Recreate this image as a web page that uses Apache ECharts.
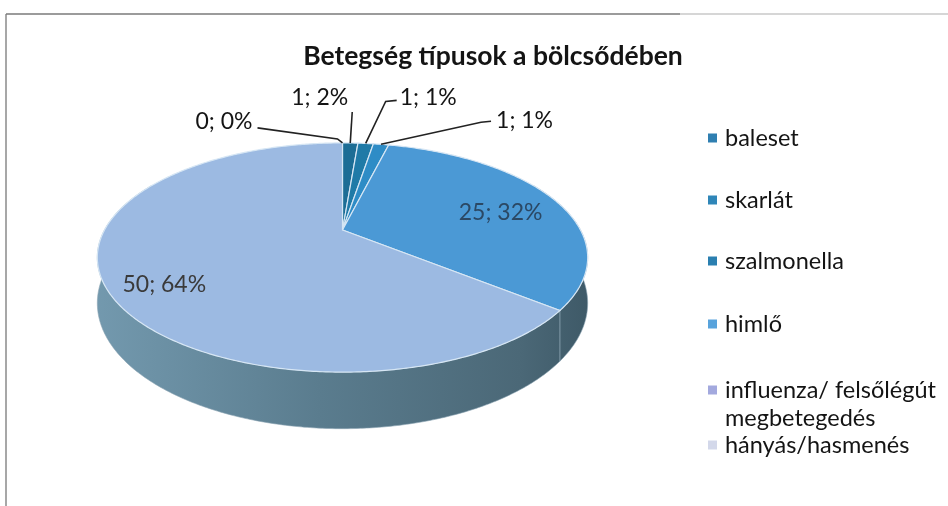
<!DOCTYPE html>
<html>
<head>
<meta charset="utf-8">
<title>Betegség típusok a bölcsődében</title>
<script src="https://cdn.jsdelivr.net/npm/echarts@6/dist/echarts.min.js"></script>
<style>
  html, body { margin: 0; padding: 0; background: #fff; }
  #chart { width: 948px; height: 506px; }
</style>
</head>
<body>
<div id="chart"></div>
<script>
// adatok
const categories = ['baleset', 'skarlát', 'szalmonella', 'himlő', 'influenza/ felsőlégút\nmegbetegedés', 'hányás/hasmenés'];
const values = [0, 1, 1, 1, 25, 50];
const percentLabels = [0, 2, 1, 1, 32, 64];

// színek
const legendColors = ['#2f7fb1', '#2f86b8', '#2a7fb0', '#58a3dc', '#a3a9de', '#d3d8ea'];
const topColors = ['#1b668c', '#1c6d95', '#1f7aa7', '#2e8cc6', '#4b99d5', '#9cbae2'];

// 3D torta geometria (perspektíva)
const pie = { cx: 342.5, cy: 230, rx: 238, ry: 108, depth: 43, persp: 0.24 };
// címkék: vezetővonal pontjai és szöveg eltolása a perem pontjától
const leaders = [
  { pts: [[-5, -4], [-85, -15]], text: [-90, -21], align: 'right' },
  { pts: [[2, -31]], text: [-2, -45], align: 'right' },
  { pts: [[20, -42], [31, -43]], text: [34, -46], align: 'left' },
  { pts: [[100, -22], [110, -23]], text: [115, -24], align: 'left' },
];
const insideOffsets = [null, null, null, null, [4, 6], [-11, 19]];
const legendTops = [124, 186, 247, 310, 376, 431];
const FONT = 'Lato';
const TEXT_COLOR = '#141414';

const total = values.reduce((a, b) => a + b, 0);
const startAngles = [];
let acc = 0;
values.forEach((v) => {
  startAngles.push((acc / total) * Math.PI * 2);
  acc += v;
});

function project(theta, frac, h) {
  const u = Math.sin(theta) * frac;
  const v = -Math.cos(theta) * frac;
  const s = 1 / (1 - pie.persp * v);
  return [pie.cx + pie.rx * u * s, pie.cy + (pie.ry * v + h) * s];
}

function arc(a0, a1, frac, h) {
  const n = Math.max(2, Math.ceil((a1 - a0) / 0.01));
  const pts = [];
  for (let k = 0; k <= n; k++) {
    pts.push(project(a0 + ((a1 - a0) * k) / n, frac, h));
  }
  return pts;
}

const sideFill = {
  type: 'linear', x: 95, y: 0, x2: 595, y2: 0, global: true,
  colorStops: [
    { offset: 0, color: '#7399ae' },
    { offset: 0.45, color: '#5a7c8e' },
    { offset: 0.85, color: '#4b6877' },
    { offset: 1, color: '#3d5866' },
  ],
};

function renderSlice(i) {
  return function () {
    const a0 = startAngles[i];
    const a1 = a0 + (values[i] / total) * Math.PI * 2;
    const children = [];
    if (a1 > a0) {
      // oldalfal
      const lo = Math.max(a0, Math.PI * 0.35);
      const hi = Math.min(a1, Math.PI * 1.65);
      if (hi > lo) {
        children.push({
          type: 'polygon',
          z2: 1,
          shape: { points: arc(lo, hi, 1, 0).concat(arc(lo, hi, 1, pie.depth).reverse()) },
          style: { fill: sideFill, stroke: '#8aa3b2', lineWidth: 0.6 },
        });
      }
      // felső lap
      children.push({
        type: 'polygon',
        z2: 5,
        shape: { points: [[pie.cx, pie.cy]].concat(arc(a0, a1, 1, 0)) },
        style: { fill: topColors[i], stroke: '#d6e6f4', lineWidth: 1.2 },
      });
    }
    const mid = (a0 + a1) / 2;
    const text = values[i] + '; ' + percentLabels[i] + '%';
    if (leaders[i]) {
      const p = project(mid, 1, 0);
      const L = leaders[i];
      children.push({
        type: 'polyline',
        z2: 8,
        shape: { points: [p].concat(L.pts.map((d) => [p[0] + d[0], p[1] + d[1]])) },
        style: { stroke: '#222', lineWidth: 1.6, fill: null },
      });
      children.push({
        type: 'text',
        z2: 10,
        x: p[0] + L.text[0],
        y: p[1] + L.text[1],
        style: { text, fill: TEXT_COLOR, fontSize: 23, fontFamily: FONT, align: L.align, verticalAlign: 'middle' },
      });
    } else {
      const p = project(mid, 0.72, 0);
      const o = insideOffsets[i];
      children.push({
        type: 'text',
        z2: 10,
        x: p[0] + o[0],
        y: p[1] + o[1],
        style: { text, fill: i === 4 ? '#2b4864' : '#3a3a3a', fontSize: 23, fontFamily: FONT, align: 'center', verticalAlign: 'middle' },
      });
    }
    return { type: 'group', children };
  };
}

// a kétsoros tételnél a jel az első sorhoz igazodjon
const topSquareIcon = 'path://M0,0H9V9H0Z M0,37H0.01V37.01H0Z';

const chart = echarts.init(document.getElementById('chart'));

const option = {
  animation: false,
  backgroundColor: '#fff',
  title: {
    text: 'Betegség típusok a bölcsődében',
    left: 488,
    top: 38,
    textAlign: 'center',
    textStyle: { fontSize: 26.5, fontWeight: 'bold', fontFamily: FONT, color: '#141414' },
  },
  legend: categories.map((name, i) => {
    const twoLine = name.indexOf('\n') >= 0;
    return {
      data: [name],
      orient: 'vertical',
      left: 708,
      top: legendTops[i],
      padding: 0,
      itemWidth: 9,
      itemHeight: twoLine ? 37 : 9,
      icon: twoLine ? topSquareIcon : 'rect',
      selectedMode: false,
      textStyle: { fontSize: 23.5, lineHeight: 28, color: TEXT_COLOR, fontFamily: FONT, padding: [0, 0, 0, 3] },
    };
  }),
  graphic: [
    { type: 'line', shape: { x1: 6, y1: 14, x2: 6, y2: 506 }, style: { stroke: '#8a8a8a', lineWidth: 1.5 } },
    { type: 'line', shape: { x1: 6, y1: 14, x2: 680, y2: 14 }, style: { stroke: '#7a7a7a', lineWidth: 1.5 } },
    { type: 'line', shape: { x1: 680, y1: 14, x2: 948, y2: 14 }, style: { stroke: '#c8c8c8', lineWidth: 1.5 } },
  ],
  series: categories.map((name, i) => ({
    type: 'custom',
    name,
    coordinateSystem: 'none',
    silent: true,
    itemStyle: { color: legendColors[i] },
    data: [[values[i]]],
    renderItem: renderSlice(i),
  })),
};

chart.setOption(option);
window.addEventListener('resize', () => chart.resize());
</script>
</body>
</html>
